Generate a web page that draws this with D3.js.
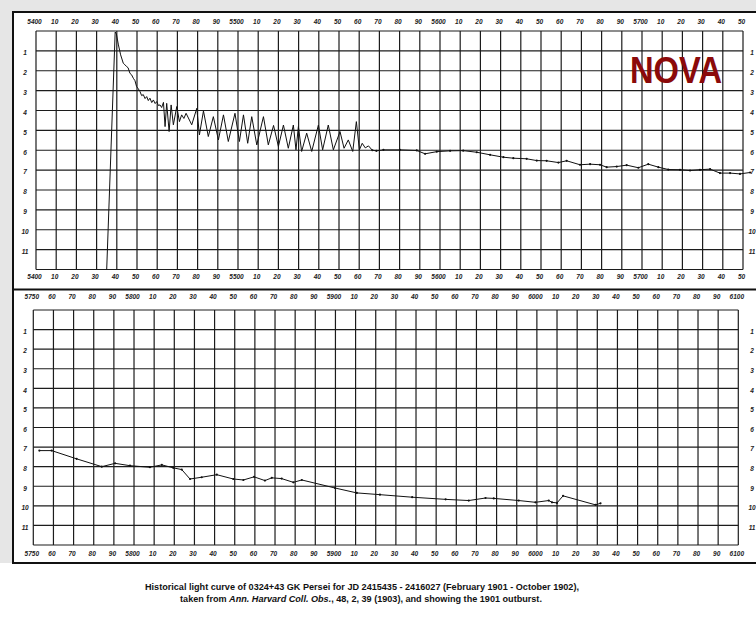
<!DOCTYPE html>
<html>
<head>
<meta charset="utf-8">
<script src="https://cdn.jsdelivr.net/npm/d3@7"></script>
<style>
  html, body { margin: 0; padding: 0; background: #fff; }
  svg { display: block; }
</style>
</head>
<body>
<svg id="chart" width="756" height="617"></svg>
<script>
// Julian day ticks (JD 2410000 + n), labelled the way the Harvard plates abbreviate them
const upperDayTicks = d3.range(5400, 5751, 10);
const upperDayLabels = ["5400","10","20","30","40","50","60","70","80","90",
  "5500","10","20","30","40","50","60","70","80","90",
  "5600","10","20","30","40","50","60","70","80","90",
  "5700","10","20","30","40","50"];
const lowerDayTicks = d3.range(5750, 6101, 10);
const lowerDayLabels = ["5750","60","70","80","90",
  "5800","10","20","30","40","50","60","70","80","90",
  "5900","10","20","30","40","50","60","70","80","90",
  "6000","10","20","30","40","50","60","70","80","90","6100"];
const magTicks = d3.range(1, 12);
const magLabels = ["1","2","3","4","5","6","7","8","9","10","11"];

// Visual magnitudes, [JD - 2410000, mag], 1901 outburst and decline
const outburst1901 = [
  [5435.0, 12.0], [5439.2, 0.05], [5439.8, 0.15], [5440.8, 0.70], [5441.9, 1.20],
  [5443.2, 1.62], [5444.0, 1.70], [5444.9, 1.79], [5445.6, 1.85], [5446.5, 2.13],
  [5447.3, 2.20], [5448.2, 2.38], [5449.0, 2.50], [5449.8, 2.80], [5450.6, 2.90],
  [5451.5, 3.05], [5452.3, 3.25], [5453.1, 3.20], [5454.0, 3.40], [5454.8, 3.30],
  [5455.6, 3.50], [5456.4, 3.38], [5457.3, 3.60], [5458.1, 3.47], [5459.0, 3.65],
  [5459.8, 3.55], [5460.6, 3.75], [5461.4, 3.72], [5462.2, 3.85],
  [5463.1, 3.59], [5463.9, 4.81], [5464.7, 3.64], [5465.9, 5.06], [5466.9, 3.72],
  [5468.0, 4.72], [5469.7, 3.80], [5471.0, 4.56], [5472.1, 4.22], [5473.2, 4.40],
  [5474.3, 4.14], [5477.1, 4.72], [5479.6, 3.89], [5480.9, 5.23], [5482.9, 4.02],
  [5485.3, 5.31], [5487.8, 4.31], [5490.3, 5.48], [5492.8, 4.22], [5495.2, 5.56],
  [5498.5, 4.14], [5500.7, 5.56], [5502.7, 4.22], [5504.8, 5.65], [5506.8, 4.31],
  [5509.3, 5.73], [5512.6, 4.31], [5515.0, 5.73], [5517.6, 4.75], [5520.0, 5.81],
  [5522.5, 4.73], [5524.9, 5.90], [5527.4, 4.73], [5528.7, 5.98], [5529.9, 4.81],
  [5531.5, 6.06], [5534.0, 5.14], [5536.5, 6.06], [5539.8, 4.73], [5541.9, 5.98],
  [5544.7, 4.73], [5547.2, 5.98], [5550.5, 5.06], [5552.5, 5.90], [5554.6, 5.48],
  [5556.8, 6.06], [5558.6, 4.56], [5560.1, 5.98], [5561.5, 5.65], [5563.0, 5.88],
  [5564.6, 5.78], [5566.5, 6.00], [5568.5, 6.03], [5572.0, 5.98], [5580.2, 5.98],
  [5588.5, 6.01], [5592.6, 6.18], [5598.4, 6.07], [5605.0, 6.03], [5611.5, 6.02],
  [5618.2, 6.10], [5624.8, 6.23], [5631.4, 6.35], [5636.3, 6.40], [5642.9, 6.43],
  [5647.9, 6.52], [5652.8, 6.53], [5658.6, 6.62], [5662.7, 6.53], [5669.3, 6.73],
  [5674.3, 6.70], [5679.2, 6.73], [5682.5, 6.85], [5687.5, 6.82], [5692.4, 6.75],
  [5698.2, 6.88], [5703.1, 6.70], [5708.1, 6.85], [5713.0, 6.97], [5718.8, 6.98],
  [5723.8, 7.02], [5728.7, 6.98], [5733.7, 6.95], [5738.6, 7.15], [5743.6, 7.15],
  [5748.5, 7.19], [5753.5, 7.12]
];
const decline1902 = [
  [5753.0, 7.18], [5759.1, 7.18], [5771.5, 7.60], [5784.0, 8.00], [5790.6, 7.83],
  [5798.0, 7.95], [5807.9, 8.03], [5813.8, 7.91], [5819.5, 8.06], [5823.7, 8.15],
  [5827.8, 8.63], [5833.6, 8.54], [5841.1, 8.41], [5849.3, 8.63], [5854.3, 8.68],
  [5859.6, 8.52], [5865.0, 8.71], [5868.4, 8.57], [5873.3, 8.61], [5879.1, 8.80],
  [5883.3, 8.68], [5899.8, 9.09], [5910.6, 9.34], [5922.1, 9.43], [5938.1, 9.56],
  [5954.7, 9.67], [5966.2, 9.73], [5974.5, 9.60], [5978.6, 9.62], [5991.0, 9.73],
  [5999.3, 9.82], [6005.9, 9.73], [6007.5, 9.82], [6010.0, 9.85], [6013.0, 9.49],
  [6029.1, 9.95], [6031.6, 9.87]
];
const captionLine1 = "Historical light curve of 0324+43 GK Persei for JD 2415435 - 2416027 (February 1901 - October 1902),";
const captionLine2 = ["taken from ", "Ann. Harvard Coll. Obs.", ", 48, 2, 39 (1903), and showing the 1901 outburst."];

const svg = d3.select("#chart");
const ink = "#1c1c1c";
const tickFont = "'Liberation Sans', Arial, sans-serif";

// grey margin of the scanned sheet
svg.append("rect").attr("x", 0).attr("y", 0).attr("width", 756).attr("height", 617).attr("fill", "#fff");
svg.append("rect").attr("x", 0).attr("y", 0).attr("width", 756).attr("height", 12).attr("fill", "#e6e6e6");
svg.append("rect").attr("x", 0).attr("y", 0).attr("width", 13).attr("height", 563).attr("fill", "#e6e6e6");

const panels = [
  { domain: [5400, 5750], xr: [36, 743], yr: [31, 269.5], ticks: upperDayTicks, labels: upperDayLabels,
    topY: 22, botY: 277, series: outburst1901, dotsFrom: 5566 },
  { domain: [5750, 6100], xr: [33.3, 738.3], yr: [310, 545], ticks: lowerDayTicks, labels: lowerDayLabels,
    topY: 296.5, botY: 554, series: decline1902, dotsFrom: 5750 }
];

panels.forEach(p => {
  const x = d3.scaleLinear().domain(p.domain).range(p.xr);
  const y = d3.scaleLinear().domain([0, 12]).range(p.yr);
  const g = svg.append("g");

  // graph-paper grid
  g.append("g").selectAll("line").data(p.ticks).join("line")
    .attr("x1", d => x(d)).attr("x2", d => x(d))
    .attr("y1", p.yr[0]).attr("y2", p.yr[1])
    .attr("stroke", ink).attr("stroke-width", 1.2);
  g.append("g").selectAll("line").data(d3.range(0, 13)).join("line")
    .attr("x1", p.xr[0]).attr("x2", p.xr[1])
    .attr("y1", d => y(d)).attr("y2", d => y(d))
    .attr("stroke", ink).attr("stroke-width", 1.2);

  // day labels above and below the grid
  [["top", p.topY], ["bottom", p.botY]].forEach(([side, yy]) => {
    const axis = (side === "top" ? d3.axisTop(x) : d3.axisBottom(x))
      .tickValues(p.ticks).tickFormat((d, i) => p.labels[i]).tickSize(0);
    const ag = g.append("g").attr("transform", `translate(0,${yy})`).call(axis);
    ag.select(".domain").remove();
    ag.selectAll("text")
      .attr("y", 0).attr("dy", "0.35em").attr("x", -2)
      .attr("font-family", tickFont).attr("font-size", 6.5).attr("font-weight", "bold")
      .attr("font-style", "italic").attr("fill", ink);
  });

  // magnitude labels on both sides
  [25, 752].forEach(xx => {
    const axis = d3.axisLeft(y).tickValues(magTicks).tickFormat((d, i) => magLabels[i]).tickSize(0);
    const ag = g.append("g").attr("transform", `translate(${xx},1.5)`).call(axis);
    ag.select(".domain").remove();
    ag.selectAll("text")
      .attr("x", 0).attr("dy", "0.35em").attr("text-anchor", "middle")
      .attr("font-family", tickFont).attr("font-size", 6.5).attr("font-weight", "bold")
      .attr("font-style", "italic").attr("fill", ink);
  });

  // light curve
  const line = d3.line().x(d => x(d[0])).y(d => y(d[1]));
  g.append("path").datum(p.series).attr("d", line)
    .attr("fill", "none").attr("stroke", "#111").attr("stroke-width", 1)
    .attr("stroke-linejoin", "round");
  g.append("g").selectAll("circle").data(p.series.filter(d => d[0] >= p.dotsFrom)).join("circle")
    .attr("cx", d => x(d[0])).attr("cy", d => y(d[1])).attr("r", 1.1).attr("fill", "#111");
});

// sheet frame and divider between the two strips
svg.append("rect").attr("x", 13).attr("y", 12).attr("width", 770).attr("height", 551)
  .attr("fill", "none").attr("stroke", "#111").attr("stroke-width", 2);
svg.append("line").attr("x1", 13).attr("x2", 783).attr("y1", 289.5).attr("y2", 289.5)
  .attr("stroke", "#111").attr("stroke-width", 2.2);

// title stamp
svg.append("text").attr("x", 630).attr("y", 83)
  .attr("font-family", "'Liberation Sans', Arial, sans-serif").attr("font-weight", "bold")
  .attr("font-size", 36).attr("fill", "#8b0a0a")
  .attr("textLength", 92).attr("lengthAdjust", "spacingAndGlyphs")
  .text("NOVA");

// caption
const cap = svg.append("g").attr("font-family", "'Liberation Sans', Arial, sans-serif")
  .attr("font-weight", "bold").attr("font-size", 9.1).attr("fill", "#111").attr("text-anchor", "middle");
cap.append("text").attr("x", 362).attr("y", 590).text(captionLine1);
const t2 = cap.append("text").attr("x", 361).attr("y", 602);
captionLine2.forEach((s, i) => t2.append("tspan").attr("font-style", i === 1 ? "italic" : "normal").text(s));
</script>
</body>
</html>
